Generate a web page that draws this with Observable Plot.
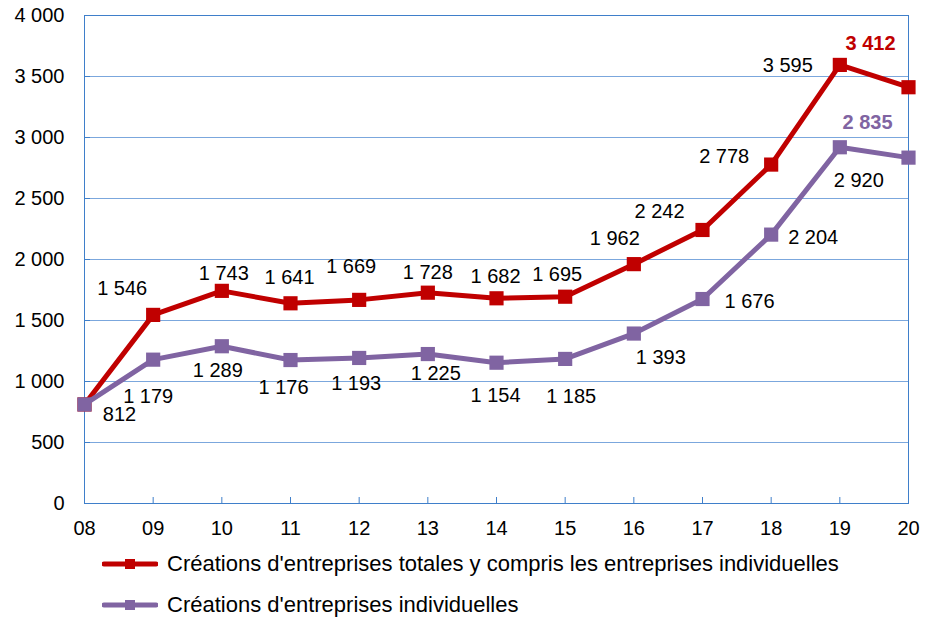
<!DOCTYPE html>
<html>
<head>
<meta charset="utf-8">
<script src="https://cdn.jsdelivr.net/npm/d3@7"></script>
<script src="https://cdn.jsdelivr.net/npm/@observablehq/plot@0.6"></script>
<style>
  body { margin: 0; background: #fff; font-family: "Liberation Sans", Arial, sans-serif; }
  #chart { width: 934px; }
  .leg-row { height: 38px; display: flex; align-items: center; padding-left: 102px; font-size: 22px; color: #000; white-space: nowrap; }
  .leg-row + .leg-row { margin-top: 3px; }
  .leg-row svg { margin-right: 9px; }
</style>
</head>
<body>
<div id="chart"></div>
<div id="legend"></div>
<script>
// ---- data ----
const years = ["08","09","10","11","12","13","14","15","16","17","18","19","20"];
const totalCreations = [812,1546,1743,1641,1669,1728,1682,1695,1962,2242,2778,3595,3412];
const individualCreations = [812,1179,1289,1176,1193,1225,1154,1185,1393,1676,2204,2920,2835];
const yTicks = [0,500,1000,1500,2000,2500,3000,3500,4000];
const seriesNames = [
  "Créations d'entreprises totales y compris les entreprises individuelles",
  "Créations d'entreprises individuelles"
];

// ---- styling ----
const RED = "#C00000", PURPLE = "#8064A2";
const GRID = "#7BA7DD", AXIS = "#3F7FCA";
const W = 934, H = 545;
const mL = 84, mR = 26, mT = 15, mB = 42;
// label offsets [dx, dy] in pixels relative to each point (null = no label)
const totalLabelOffsets = [null,[-31,-26],[2,-17],[-1,-26],[-8,-33],[0,-20],[-1,-22],[-8,-22],[-19,-26],[-43,-18],[-47,-8],[-52,1],[-38,-44]];
const indivLabelOffsets = [[35,10],[-5,37],[-4,24],[-7,28],[-3,26],[8,20],[-1,33],[6,38],[27,24],[47,3],[42,3],[19,33],[-41,-35]];

const fmt = v => d3.format(",")(v).replace(/,/g, " ");

const rowsT = years.map((y, i) => ({year: y, value: totalCreations[i]}));
const rowsI = years.map((y, i) => ({year: y, value: individualCreations[i]}));

function labels(rows, offsets, color) {
  const marks = [];
  rows.forEach((d, i) => {
    const o = offsets[i];
    if (!o) return;
    const last = i === rows.length - 1;
    marks.push(Plot.text([d], {
      x: "year", y: "value", text: r => fmt(r.value),
      dx: o[0], dy: o[1],
      fill: last ? color : "#000",
      fontWeight: last ? "bold" : "normal",
      fontSize: 20
    }));
  });
  return marks;
}

const plotW = W - mL - mR, plotH = H - mT - mB;

const chart = Plot.plot({
  width: W, height: H,
  marginLeft: mL, marginRight: mR, marginTop: mT, marginBottom: mB,
  style: {fontFamily: "'Liberation Sans', Arial, sans-serif", fontSize: "20px", color: "#000", background: "#fff"},
  x: {type: "point", domain: years, padding: 0, round: false, label: null},
  y: {domain: [0, 4000], label: null},
  marks: [
    Plot.gridY(yTicks, {stroke: GRID, strokeOpacity: 1}),
    Plot.frame({stroke: AXIS}),
    Plot.tickY(yTicks, {y: d => d, stroke: AXIS, insetRight: plotW - 6}),
    Plot.ruleX(years, {x: d => d, stroke: AXIS, insetTop: plotH - 6}),
    Plot.axisY(yTicks, {tickSize: 0, tickPadding: 20, tickFormat: fmt, fontSize: 20, fill: "#000", label: null}),
    Plot.axisX({tickSize: 0, tickPadding: 17, fontSize: 20, fill: "#000", label: null}),
    Plot.line(rowsT, {x: "year", y: "value", stroke: RED, strokeWidth: 5}),
    Plot.dot(rowsT, {x: "year", y: "value", symbol: "square", r: 8, fill: RED}),
    Plot.line(rowsI, {x: "year", y: "value", stroke: PURPLE, strokeWidth: 5}),
    Plot.dot(rowsI, {x: "year", y: "value", symbol: "square", r: 8, fill: PURPLE}),
    ...labels(rowsT, totalLabelOffsets, RED),
    ...labels(rowsI, indivLabelOffsets, PURPLE)
  ]
});
document.getElementById("chart").appendChild(chart);

// ---- legend ----
const legend = document.getElementById("legend");
[[seriesNames[0], RED], [seriesNames[1], PURPLE]].forEach(([name, color]) => {
  const row = document.createElement("div");
  row.className = "leg-row";
  row.innerHTML = `<svg width="56" height="14"><line x1="2" y1="7" x2="54" y2="7" stroke="${color}" stroke-width="5" stroke-linecap="round"/><rect x="23" y="2" width="10" height="10" fill="${color}"/></svg><span>${name}</span>`;
  legend.appendChild(row);
});
</script>
</body>
</html>
